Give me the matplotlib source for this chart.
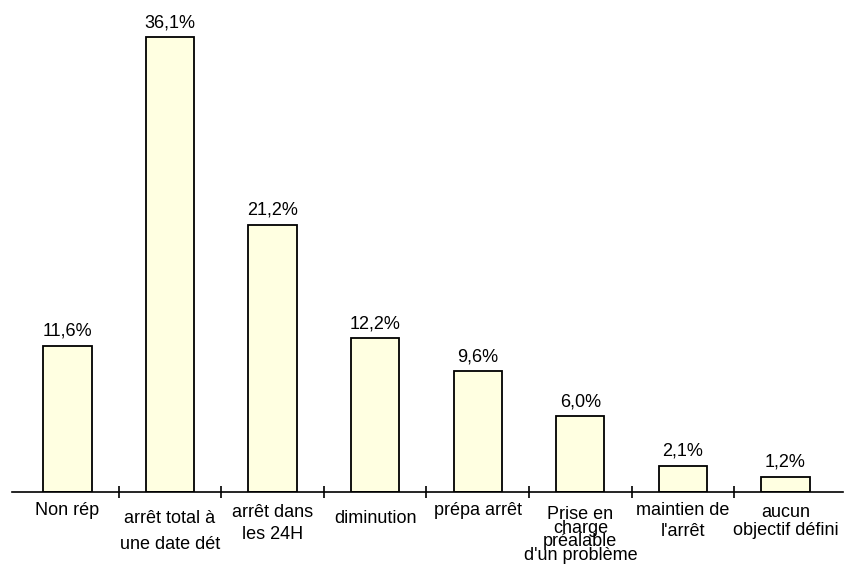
import matplotlib
matplotlib.use("Agg")
import matplotlib.pyplot as plt
import numpy as np

# categories (multi-line labels) and percentages
categories = [
    "Non rép",
    "arrêt total à\nune date dét",
    "arrêt dans\nles 24H",
    "diminution",
    "prépa arrêt",
    "Prise en\ncharge\npréalable\nd'un problème",
    "maintien de\nl'arrêt",
    "aucun\nobjectif défini",
]
values = [11.6, 36.1, 21.2, 12.2, 9.6, 6.0, 2.1, 1.2]
value_labels = ["11,6%", "36,1%", "21,2%", "12,2%", "9,6%", "6,0%", "2,1%", "1,2%"]

# per-label layout: distance below the axis (px) and line spacing
label_drop = [10, 18, 12, 18, 10, 14, 10, 12]
label_spacing = [1.2, 1.7, 1.35, 1.2, 1.2, 0.74, 1.3, 1.1]

plt.rcParams["font.family"] = ["Liberation Sans", "DejaVu Sans"]
plt.rcParams["font.size"] = 13

fig = plt.figure(figsize=(8.53, 5.65), dpi=100)
ax = fig.add_axes([12 / 853, 73 / 565, 831 / 853, 478.8 / 565])

x = np.arange(len(categories))
ax.bar(x, values, width=0.47, color="#FFFFE1", edgecolor="black", linewidth=1.3,
       zorder=2)

for xi, v, lab in zip(x, values, value_labels):
    ax.annotate(lab, (xi, v), xytext=(0, 6), textcoords="offset pixels",
                ha="center", va="bottom")

for xi, lab, drop, ls in zip(x, categories, label_drop, label_spacing):
    ax.annotate(lab, (xi, 0), xytext=(0, -drop), textcoords="offset pixels",
                ha="center", va="top", linespacing=ls,
                annotation_clip=False)

ax.set_xlim(-0.54, 7.56)
ax.set_ylim(0, 38)

for side in ("left", "right", "top"):
    ax.spines[side].set_visible(False)
ax.spines["bottom"].set_linewidth(1.2)
ax.set_yticks([])
ax.set_xticks(x[:-1] + 0.5)
ax.set_xticklabels([])
ax.tick_params(axis="x", direction="inout", length=9, width=1.2)

fig.savefig("out.png", dpi=100)
